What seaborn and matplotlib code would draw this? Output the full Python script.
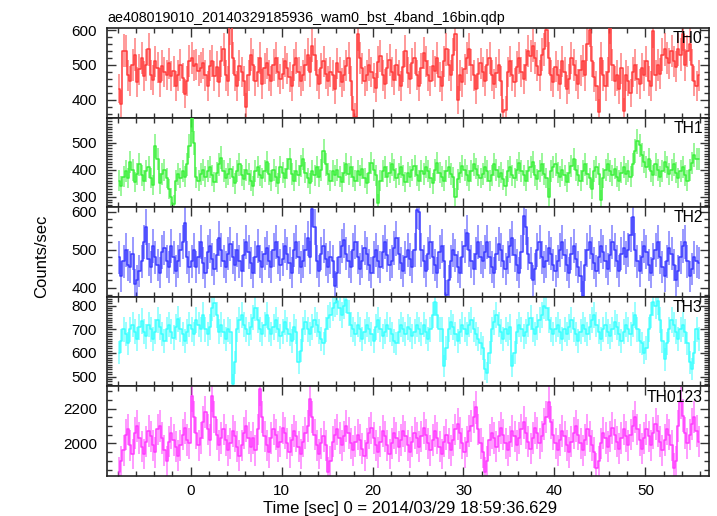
import numpy as np
import pandas as pd
import matplotlib
matplotlib.use("Agg")
import matplotlib.pyplot as plt
import seaborn as sns
from matplotlib.ticker import MultipleLocator

# ---------------- data (rates in counts/sec, 0.25 s bins) ----------------
title = "ae408019010_20140329185936_wam0_bst_4band_16bin.qdp"
bands = ["TH0", "TH1", "TH2", "TH3", "TH0123"]
colors = ["#ff3a3a", "#3af03a", "#3a3aff", "#3affff", "#ff3aff"]
bin_width = 0.25
t_first = -7.875

th0 = [432, 388, 541, 540, 470, 455, 500, 530, 452, 488, 520, 468, 500, 545, 472, 458, 510, 492, 450, 498, 480, 472, 505, 468, 482, 440, 470, 500, 462, 418, 455, 512,
       520, 498, 502, 484, 492, 505, 470, 440, 498, 512, 468, 495, 452, 510, 545, 470, 455, 608, 520, 470, 440, 498, 480, 455, 380, 470, 530, 500, 455, 480, 520, 445,
       490, 505, 470, 455, 500, 520, 480, 460, 475, 510, 490, 465, 440, 500, 520, 480, 455, 470, 500, 530, 480, 555, 530, 470, 445, 490, 510, 475, 455, 480, 470, 430,
       505, 480, 450, 470, 498, 520, 455, 372, 352, 588, 520, 490, 455, 470, 500, 480, 462, 435, 508, 525, 470, 445, 490, 515, 480, 458, 500, 470, 440, 495, 540, 478,
       460, 505, 520, 472, 440, 490, 535, 510, 470, 455, 498, 482, 520, 465, 440, 510, 545, 500, 470, 530, 590, 400, 470, 452, 488, 520, 545, 500, 470, 430, 475, 505,
       480, 455, 500, 520, 470, 445, 478, 500, 455, 365, 372, 480, 510, 470, 450, 495, 520, 480, 460, 500, 540, 525, 555, 520, 498, 470, 530, 545, 600, 520, 470, 450,
       495, 470, 445, 510, 480, 430, 460, 520, 500, 470, 445, 485, 512, 470, 560, 600, 510, 465, 440, 365, 520, 470, 440, 480, 610, 500, 455, 470, 430, 490, 368, 470,
       455, 420, 480, 500, 460, 445, 490, 470, 510, 455, 440, 598, 470, 500, 475, 530, 545, 520, 505, 540, 510, 495, 545, 530, 590, 500, 540, 560, 500, 455, 440, 470]

th1 = [360, 340, 375, 395, 370, 430, 400, 355, 385, 420, 380, 360, 395, 410, 370, 345, 488, 440, 350, 385, 400, 370, 330, 300, 275, 360, 385, 370, 395, 375, 420, 488,
       590, 500, 372, 360, 385, 400, 375, 395, 410, 380, 355, 390, 420, 445, 395, 370, 385, 405, 375, 350, 395, 420, 380, 365, 400, 385, 360, 340, 395, 410, 380, 370,
       395, 430, 385, 360, 400, 375, 350, 410, 390, 370, 405, 440, 385, 360, 395, 380, 415, 440, 390, 370, 350, 395, 380, 410, 375, 400, 470, 420, 385, 360, 395, 380,
       400, 375, 355, 390, 420, 385, 410, 375, 360, 395, 380, 405, 370, 350, 390, 425, 400, 380, 278, 360, 395, 410, 375, 390, 420, 400, 370, 385, 410, 380, 355, 390,
       375, 400, 415, 380, 360, 395, 385, 410, 395, 370, 350, 400, 425, 390, 375, 360, 395, 410, 385, 372, 300, 365, 390, 415, 400, 380, 360, 395, 420, 405, 380, 370,
       385, 410, 395, 360, 380, 420, 400, 375, 390, 365, 340, 395, 410, 380, 370, 400, 425, 395, 380, 360, 395, 410, 430, 380, 365, 395, 420, 385, 370, 300, 395, 410,
       420, 390, 375, 400, 380, 355, 390, 415, 440, 400, 380, 360, 395, 420, 385, 370, 330, 395, 410, 385, 290, 370, 400, 420, 395, 380, 405, 375, 360, 390, 410, 385,
       395, 375, 420, 470, 505, 490, 455, 430, 410, 440, 395, 380, 420, 400, 375, 395, 430, 410, 385, 400, 420, 390, 370, 395, 410, 380, 360, 400, 425, 455, 440, 440]

th2 = [480, 430, 470, 500, 460, 455, 490, 410, 420, 445, 470, 520, 560, 475, 455, 510, 480, 460, 440, 495, 505, 470, 455, 510, 480, 445, 470, 500, 520, 570, 480, 455,
       470, 500, 455, 480, 520, 465, 440, 495, 510, 475, 450, 485, 530, 500, 470, 455, 490, 515, 480, 460, 500, 470, 445, 485, 520, 495, 465, 440, 480, 510, 470, 455,
       490, 505, 470, 455, 500, 520, 480, 460, 475, 510, 490, 465, 440, 500, 520, 480, 455, 470, 500, 530, 480, 608, 560, 470, 445, 490, 510, 475, 455, 480, 470, 405,
       440, 480, 510, 525, 490, 470, 455, 500, 520, 480, 450, 470, 505, 490, 460, 440, 480, 500, 470, 455, 495, 520, 485, 460, 470, 505, 530, 490, 465, 445, 480, 500,
       475, 455, 500, 605, 600, 500, 470, 445, 490, 520, 480, 460, 440, 495, 510, 470, 382, 420, 470, 500, 485, 455, 440, 480, 510, 545, 500, 470, 450, 490, 520, 480,
       470, 495, 520, 480, 455, 440, 490, 515, 500, 470, 450, 480, 510, 530, 485, 460, 440, 495, 588, 560, 490, 465, 420, 450, 500, 520, 480, 455, 470, 505, 490, 460,
       445, 470, 500, 520, 485, 460, 440, 490, 510, 475, 455, 430, 378, 460, 500, 520, 490, 465, 445, 480, 510, 495, 470, 450, 485, 520, 500, 470, 445, 490, 505, 480,
       500, 540, 585, 500, 470, 445, 480, 510, 495, 460, 440, 475, 500, 520, 480, 455, 430, 470, 505, 490, 460, 420, 445, 480, 510, 520, 470, 430, 450, 480, 470, 465]

th3 = [600, 650, 700, 680, 640, 700, 720, 690, 660, 710, 735, 690, 670, 720, 700, 660, 690, 740, 710, 680, 650, 700, 720, 690, 665, 710, 745, 700, 680, 650, 690, 720,
       700, 680, 740, 720, 700, 760, 700, 680, 710, 790, 810, 760, 690, 720, 690, 660, 700, 690, 468, 560, 700, 740, 760, 720, 700, 680, 710, 750, 790, 740, 700, 680,
       720, 760, 700, 680, 710, 740, 700, 670, 690, 730, 700, 680, 650, 710, 690, 560, 610, 700, 730, 700, 680, 710, 740, 720, 690, 660, 640, 700, 750, 760, 790, 810,
       820, 790, 760, 800, 825, 770, 720, 700, 680, 720, 700, 660, 690, 720, 700, 680, 650, 710, 740, 700, 670, 690, 720, 700, 680, 650, 640, 690, 720, 700, 680, 710,
       700, 670, 690, 720, 700, 680, 720, 690, 660, 700, 760, 815, 760, 700, 700, 545, 620, 700, 730, 710, 680, 650, 690, 720, 700, 680, 720, 740, 700, 680, 660, 640,
       620, 530, 517, 600, 700, 730, 760, 720, 690, 660, 700, 680, 710, 545, 600, 690, 720, 700, 670, 690, 720, 750, 700, 680, 710, 740, 760, 800, 790, 740, 700, 680,
       700, 720, 690, 660, 700, 680, 710, 740, 700, 680, 650, 690, 720, 700, 680, 710, 740, 760, 720, 690, 660, 700, 720, 690, 670, 700, 730, 710, 680, 650, 690, 720,
       700, 680, 720, 760, 700, 650, 640, 600, 620, 700, 760, 815, 800, 820, 740, 650, 573, 640, 700, 740, 720, 690, 660, 700, 720, 690, 640, 560, 531, 600, 700, 660]

th0123 = [1836, 1900, 1960, 2050, 2080, 1990, 1940, 2060, 2100, 2030, 1980, 1940, 2010, 2070, 2040, 1990, 1950, 2080, 2100, 2030, 1960, 1900, 2010, 2060, 2020, 1980, 1930, 1990, 2050, 2090, 2020, 2000,
          2274, 2150, 2060, 1990, 2030, 2120, 2180, 2080, 2020, 2274, 2150, 2050, 1990, 2030, 2080, 2020, 1960, 2000, 2070, 2040, 1980, 1930, 1990, 2060, 2100, 2030, 1980, 2030, 1960, 2080, 2312, 2150,
          2040, 1990, 1950, 2030, 2080, 2050, 1980, 2010, 2090, 2060, 2000, 1950, 2020, 2070, 2040, 1980, 1940, 2010, 2060, 2100, 2255, 2150, 2050, 1990, 1940, 2000, 2040, 1990, 1836, 1900, 2010, 2050,
          2080, 2030, 1990, 2040, 2100, 2060, 2000, 1960, 2010, 2050, 2020, 1970, 1930, 2000, 2060, 2090, 2030, 1990, 1950, 2010, 2070, 2040, 1990, 1940, 2000, 2060, 2030, 1980, 2020, 2070, 2040, 1990,
          1950, 2010, 2060, 2030, 1980, 2040, 2090, 2050, 2000, 1960, 2020, 2070, 2030, 1980, 1940, 2010, 2050, 2000, 1960, 2020, 2080, 2110, 2060, 2000, 1950, 2010, 2070, 2100, 2150, 2207, 2080, 2000,
          1950, 1836, 1900, 2020, 2060, 2030, 1980, 2040, 2090, 2050, 2000, 1960, 2010, 2070, 2040, 1990, 2030, 2080, 2120, 2060, 2010, 1970, 2030, 2090, 2060, 2000, 2040, 2110, 2150, 2236, 2120, 2050,
          2000, 1960, 2020, 2070, 2040, 1990, 1950, 2010, 2060, 2100, 2050, 2000, 1960, 2020, 2080, 2040, 1990, 1950, 1860, 1900, 2000, 2060, 2030, 1980, 2040, 2090, 2050, 2010, 1970, 2030, 2080, 2040,
          1990, 2050, 2100, 2150, 2080, 2020, 1970, 2030, 2080, 2040, 1990, 2060, 2110, 2070, 2010, 1960, 2020, 2080, 2050, 1990, 1860, 1900, 2100, 2236, 2160, 2060, 2000, 2050, 2110, 2150, 2070, 2010]

series = [th0, th1, th2, th3, th0123]
ylims = [(349, 606), (262, 593), (376, 612), (458, 838), (1813, 2327)]
ymajor = [100, 100, 100, 100, 200]
yminor = [20, 10, 20, 10, 50]
xlabel = "Time [sec] 0 = 2014/03/29 18:59:36.629"
ylabel = "Counts/sec"

# --------------- long table ---------------
frames = []
for name, vals in zip(bands, series):
    v = np.asarray(vals, dtype=float)
    t = t_first + bin_width * np.arange(len(v))
    frames.append(pd.DataFrame({"band": name, "time": t, "rate": v,
                                "err": np.sqrt(v / bin_width)}))
df = pd.concat(frames, ignore_index=True)

# --------------- style ---------------
sns.set_style("ticks")
plt.rcParams["font.family"] = ["Liberation Sans", "DejaVu Sans"]
plt.rcParams["xtick.direction"] = "in"
plt.rcParams["ytick.direction"] = "in"

fig = plt.figure(figsize=(7.17, 5.16), dpi=100)
gs = fig.add_gridspec(5, 1, left=0.1499, right=0.9895, top=0.9457, bottom=0.0775, hspace=0)
axes = [fig.add_subplot(gs[i, 0]) for i in range(5)]

for i, (ax, name, col) in enumerate(zip(axes, bands, colors)):
    d = df[df["band"] == name]
    ax.errorbar(d["time"], d["rate"], yerr=d["err"], fmt="none",
                ecolor=col, elinewidth=1.2, alpha=0.6, zorder=2)
    sns.lineplot(data=d, x="time", y="rate", ax=ax, color=col, lw=1.1,
                 drawstyle="steps-mid", estimator=None, zorder=3)
    ax.set_xlim(-9.14, 57.05)
    ax.set_ylim(*ylims[i])
    ax.yaxis.set_major_locator(MultipleLocator(ymajor[i]))
    ax.yaxis.set_minor_locator(MultipleLocator(yminor[i]))
    ax.xaxis.set_major_locator(MultipleLocator(10))
    ax.xaxis.set_minor_locator(MultipleLocator(2))
    ax.tick_params(which="both", top=True, right=True, direction="in",
                   color="#333333", width=1.0, labelsize=11, labelcolor="black")
    ax.tick_params(axis="y", pad=7.5)
    ax.tick_params(axis="x", pad=6)
    ax.tick_params(which="major", length=6.5)
    ax.tick_params(which="minor", length=3.5)
    for s in ax.spines.values():
        s.set_linewidth(1.2)
        s.set_color("#222222")
    ax.set_xlabel("")
    ax.set_ylabel("")
    if i < 4:
        ax.tick_params(labelbottom=False)
    ax.text(0.989, 0.965, name, transform=ax.transAxes, ha="right", va="top",
            fontsize=11.3, color="black")

axes[0].text(0.0, 1.03, title, transform=axes[0].transAxes, ha="left",
             va="bottom", fontsize=10.3, color="black")
fig.text(410 / 717, 1 - 508 / 516, xlabel, ha="center", va="center",
         fontsize=12, color="black")
fig.text(42 / 717, 1 - 256 / 516, ylabel, ha="center", va="center",
         rotation=90, fontsize=12, color="black")

fig.savefig("out.png", dpi=100)
